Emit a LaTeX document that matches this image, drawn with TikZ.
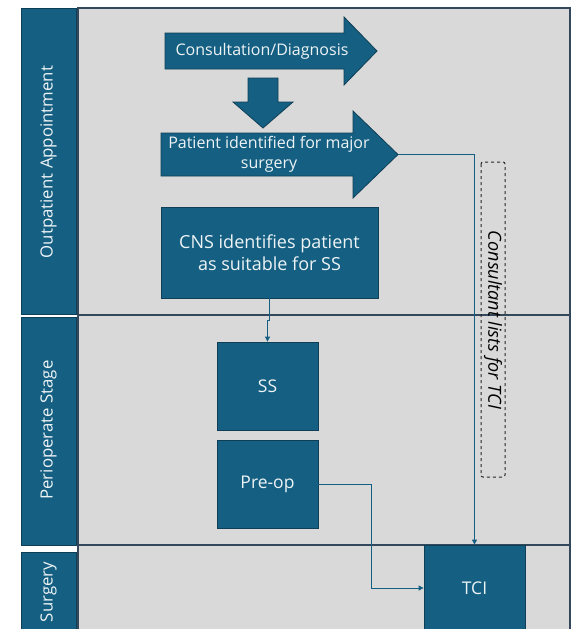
\documentclass[tikz,border=0pt]{standalone}
\usepackage{fontspec}
\setmainfont{Open Sans}
\usetikzlibrary{arrows.meta}
\definecolor{accent}{HTML}{156082}
\definecolor{boxedge}{HTML}{0E3F56}
\definecolor{lanegray}{HTML}{D9D9D9}
\definecolor{laneline}{HTML}{33485A}
\definecolor{lighttext}{HTML}{EEF3F6}
\tikzset{
  lanebar/.style={fill=accent, draw=boxedge, line width=0.8pt},
  lanetext/.style={text=lighttext, font=\fontsize{16.8}{20}\selectfont, rotate=90, inner sep=0pt},
  shapefill/.style={fill=accent, draw=boxedge, line width=0.8pt},
  boxnode/.style={fill=accent, draw=boxedge, line width=0.8pt, text=lighttext, align=center, inner sep=0pt},
  arrtext/.style={text=lighttext, align=center, inner sep=0pt, font=\fontsize{16}{20}\selectfont},
  conn/.style={draw=accent, line width=1pt, -{Triangle[width=5pt,length=5pt]}},
  plain/.style={draw=accent, line width=1pt}
}
\begin{document}
\begin{tikzpicture}[x=1pt,y=-1pt]
\useasboundingbox (0,0) rectangle (573,629);
% swimlane background
\fill[lanegray] (78,8) rectangle (570,640);
\draw[laneline, line width=1.2pt] (78,640) -- (78,8) -- (570,8) -- (570,640);
\draw[laneline, line width=1.2pt] (78,315) -- (570,315);
\draw[laneline, line width=1.2pt] (78,545) -- (570,545);
% lane label bars
\draw[lanebar] (21,8) rectangle (76,314);
\draw[lanebar] (21,317) rectangle (76,545);
\draw[lanebar] (21,552) rectangle (76,640);
\node[lanetext] (lblout) at (48.5,162) {Outpatient Appointment};
\node[lanetext] (lblperi) at (48.5,430) {Perioperate Stage};
\node[lanetext] (lblsurg) at (48.5,592) {Surgery};
% consultation arrow
\filldraw[shapefill] (165,33) -- (344,33) -- (344,17) -- (377,51) -- (344,85) -- (344,69) -- (165,69) -- cycle;
\node[arrtext] (consult) at (262,51) {Consultation/Diagnosis};
% down arrow
\filldraw[shapefill] (248,78) -- (278,78) -- (278,102) -- (293,102) -- (263,128) -- (233,102) -- (248,102) -- cycle;
% patient identified arrow
\filldraw[shapefill] (161,133) -- (353,133) -- (353,111) -- (398,154.5) -- (353,198) -- (353,176) -- (161,176) -- cycle;
\coordinate (ptip) at (398,154.5);
\node[arrtext] (patient) at (269,154.5) {Patient identified for major\\surgery};
% boxes
\node[boxnode, minimum width=217pt, minimum height=91pt, font=\fontsize{18}{22}\selectfont] (cns) at (269.5,252.5) {CNS identifies patient\\as suitable for SS};
\node[boxnode, minimum width=101pt, minimum height=88pt, font=\fontsize{17.5}{20}\selectfont] (ss) at (267.5,386) {SS};
\node[boxnode, minimum width=101pt, minimum height=88pt, font=\fontsize{17.5}{20}\selectfont] (pre) at (267.5,484) {Pre-op};
\node[boxnode, minimum width=101pt, minimum height=86pt, font=\fontsize{17.5}{20}\selectfont] (tci) at (474.5,588) {TCI};
% dashed note
\draw[black!85, dashed, line width=1pt, rounded corners=2pt] (481,162) rectangle (505,477);
\node[rotate=-90, font=\fontsize{18}{20}\selectfont\itshape, inner sep=0pt] (note) at (493,320) {Consultant lists for TCI};
% connectors
\draw[conn] (ptip) -| (tci.north);
\draw[conn] (cns.south) -- ++(0,22) -| (ss.north);
\draw[conn] (pre.east) -- ++(53,0) |- (tci.west);
\end{tikzpicture}
\end{document}
